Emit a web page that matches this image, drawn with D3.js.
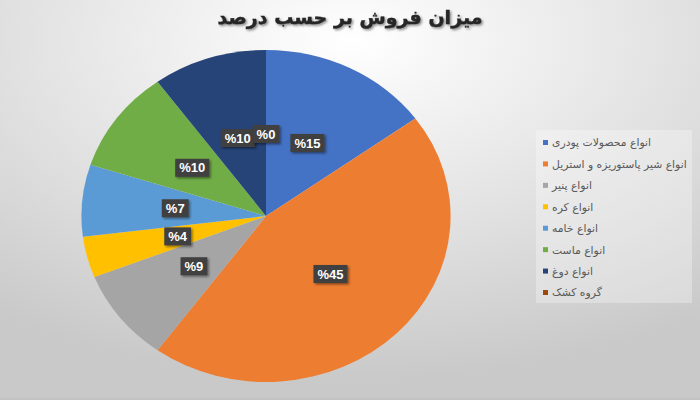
<!DOCTYPE html>
<html>
<head>
<meta charset="utf-8">
<script src="https://cdn.jsdelivr.net/npm/d3@7"></script>
<style>
  body { margin: 0; }
</style>
</head>
<body>
<div id="canvas"></div>
<script>
const categories = [
    "انواع محصولات پودری",
    "انواع شیر پاستوریزه و استریل",
    "انواع پنیر",
    "انواع کره",
    "انواع خامه",
    "انواع ماست",
    "انواع دوغ",
    "گروه کشک"
]
const values = [15, 45, 9, 4, 7, 10, 10, 0]
const labels = ["%15", "%45", "%9", "%4", "%7", "%10", "%10", "%0"]
const colors = ["#4472C4", "#ED7D31", "#A5A5A5", "#FFC000", "#5B9BD5", "#70AD47", "#264478", "#9E480E"]
const title = "میزان فروش بر حسب درصد"

const data = categories.map((c, i) => ({name: c, value: values[i], label: labels[i], color: colors[i]}))

const width = 700
const height = 400
const cx = 266, cy = 216
const ry = 166
const sx = 1.112   // the pie is stretched sideways in the picture
const labelR = 82

const svg = d3.select("#canvas").append("svg")
    .attr("width", width)
    .attr("height", height)

const defs = svg.append("defs")
const bg = defs.append("radialGradient")
    .attr("id", "bg")
    .attr("cx", "0.5").attr("cy", "0.1").attr("r", "0.85")
bg.append("stop").attr("offset", "0").attr("stop-color", "#ffffff")
bg.append("stop").attr("offset", "0.55").attr("stop-color", "#e2e2e2")
bg.append("stop").attr("offset", "1").attr("stop-color", "#c9c9c9")

const shadow = defs.append("filter").attr("id", "shadow")
    .attr("x", "-30%").attr("y", "-30%").attr("width", "160%").attr("height", "160%")
shadow.append("feDropShadow")
    .attr("dx", 1.5).attr("dy", 1.5).attr("stdDeviation", 1.2)
    .attr("flood-color", "#000").attr("flood-opacity", 0.45)

svg.append("rect")
    .attr("width", width).attr("height", height)
    .style("fill", "url(#bg)")

svg.append("line")
    .attr("x1", 0).attr("x2", width).attr("y1", height - 1).attr("y2", height - 1)
    .style("stroke", "#bdbdbd")

// title
svg.append("text")
    .attr("x", 350).attr("y", 24)
    .attr("text-anchor", "middle")
    .style("font-family", "DejaVu Sans")
    .style("font-weight", "bold")
    .style("font-size", "19px")
    .style("fill", "#262626")
    .style("stroke", "#262626")
    .style("stroke-width", 0.4)
    .attr("filter", "url(#shadow)")
    .text(title)

const pie = d3.pie().value(d => d.value).sort(null)
const arcs = pie(data)
const arc = d3.arc().innerRadius(0).outerRadius(ry)

const g = svg.append("g")
    .attr("transform", `translate(${cx},${cy}) scale(${sx},1)`)

g.selectAll("path").data(arcs)
    .enter().append("path")
    .attr("d", arc)
    .style("fill", d => d.data.color)

// data labels
const labelArc = d3.arc().innerRadius(labelR).outerRadius(labelR)
const lg = svg.append("g").attr("transform", `translate(${cx},${cy})`)

const lab = lg.selectAll("g.lab").data(arcs)
    .enter().append("g")
    .attr("class", "lab")
    .attr("transform", d => {
        const c = labelArc.centroid(d)
        return `translate(${c[0] * sx},${c[1]})`
    })

lab.append("rect")
    .attr("class", "box")
    .style("fill", "#404040")
    .attr("filter", "url(#shadow)")

lab.append("text")
    .attr("text-anchor", "middle")
    .attr("dy", "0.36em")
    .style("font-family", "Liberation Sans")
    .style("font-weight", "bold")
    .style("font-size", "13px")
    .style("fill", "#ffffff")
    .style("direction", "ltr")
    .text(d => d.data.label)

lab.each(function() {
    const t = d3.select(this).select("text").node()
    const w = t.getComputedTextLength() + 8
    d3.select(this).select("rect")
        .attr("x", -w / 2).attr("y", -9)
        .attr("width", w).attr("height", 18)
})

// legend
const legend = svg.append("g")
legend.append("rect")
    .attr("x", 536).attr("y", 130)
    .attr("width", 156).attr("height", 173)
    .style("fill", "#ffffff")
    .style("opacity", 0.3)

const y = d3.scalePoint()
    .domain(categories)
    .range([143, 293])

const items = legend.selectAll("g.item").data(data)
    .enter().append("g")
    .attr("class", "item")
    .attr("transform", d => `translate(543,${y(d.name)})`)

items.append("rect")
    .attr("x", 0).attr("y", -3)
    .attr("width", 5).attr("height", 5)
    .style("fill", d => d.color)

items.append("text")
    .attr("x", 9).attr("dy", "0.32em")
    .style("font-family", "DejaVu Sans")
    .style("font-size", "10.8px")
    .style("fill", "#595959")
    .style("direction", "rtl")
    .style("unicode-bidi", "plaintext")
    .attr("text-anchor", "end")
    .text(d => d.name)
</script>
</body>
</html>
